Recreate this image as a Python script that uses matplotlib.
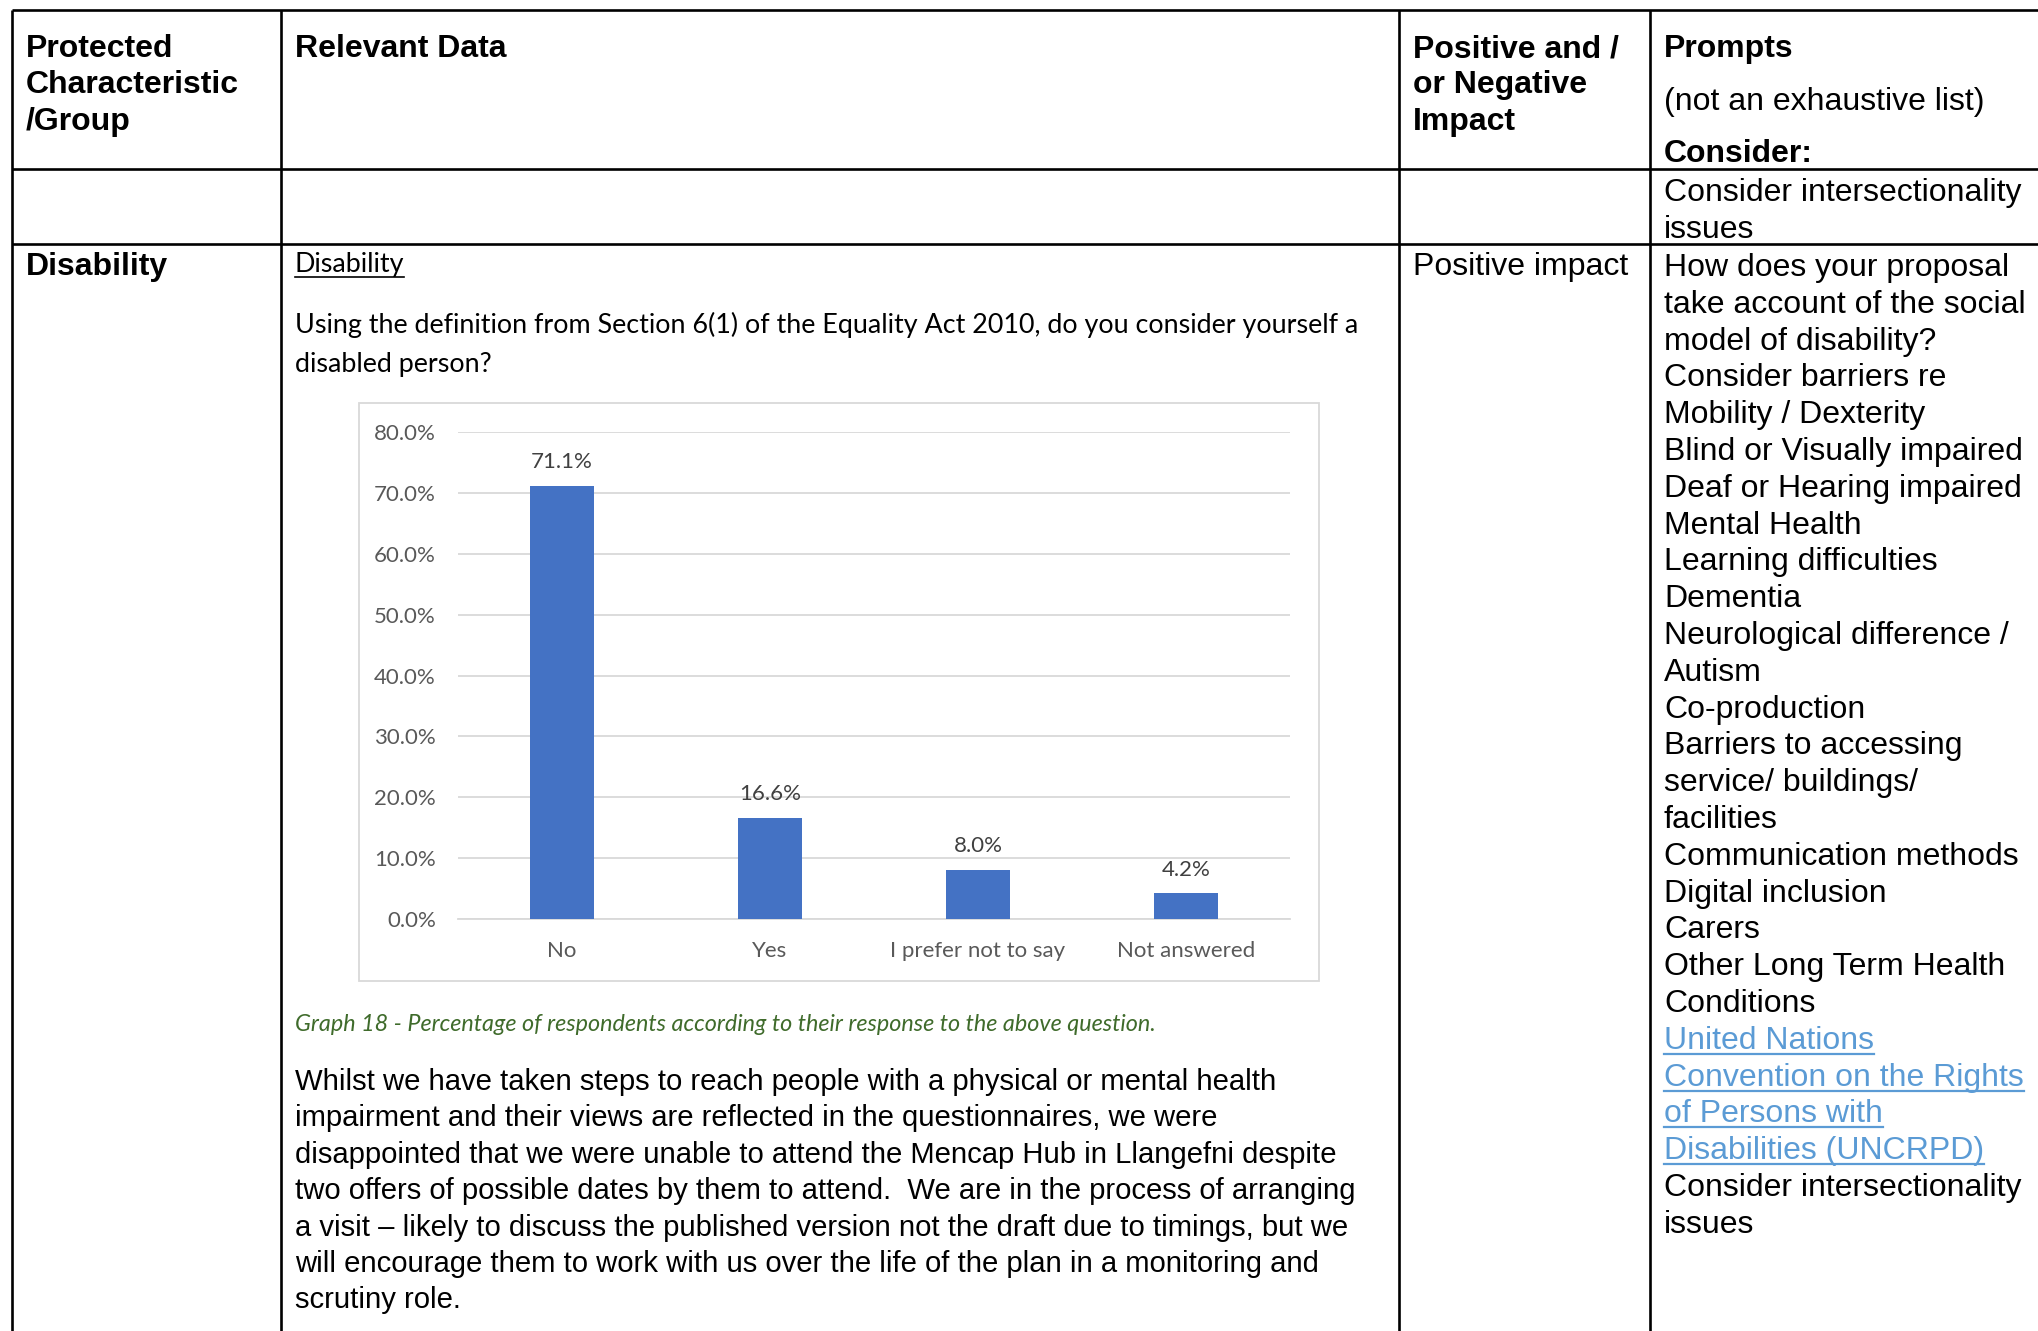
import matplotlib.pyplot as plt
from matplotlib.patches import Rectangle

# chart data
categories = ["No", "Yes", "I prefer not to say", "Not answered"]
values = [71.1, 16.6, 8.0, 4.2]
yticks = [0, 10, 20, 30, 40, 50, 60, 70, 80]

# table text
col1_header = ["Protected", "Characteristic", "/Group"]
col3_header = ["Positive and /", "or Negative", "Impact"]
prompts_top = ["Consider intersectionality", "issues"]
prompts = [
    "How does your proposal", "take account of the social", "model of disability?",
    "Consider barriers re", "Mobility / Dexterity", "Blind or Visually impaired",
    "Deaf or Hearing impaired", "Mental Health", "Learning difficulties", "Dementia",
    "Neurological difference /", "Autism", "Co-production", "Barriers to accessing",
    "service/ buildings/", "facilities", "Communication methods", "Digital inclusion",
    "Carers", "Other Long Term Health", "Conditions",
]
link_lines = ["United Nations", "Convention on the Rights", "of Persons with",
              "Disabilities (UNCRPD)"]
prompts_end = ["Consider intersectionality", "issues"]
body = [
    "Whilst we have taken steps to reach people with a physical or mental health",
    "impairment and their views are reflected in the questionnaires, we were",
    "disappointed that we were unable to attend the Mencap Hub in Llangefni despite",
    "two offers of possible dates by them to attend.  We are in the process of arranging",
    "a visit \u2013 likely to discuss the published version not the draft due to timings, but we",
    "will encourage them to work with us over the life of the plan in a monitoring and",
    "scrutiny role.",
]
question = ["Using the definition from Section 6(1) of the Equality Act 2010, do you consider yourself a",
            "disabled person?"]
caption = "Graph 18 - Percentage of respondents according to their response to the above question."

W, H = 2038, 1331
ARIAL = "Liberation Sans"
CAL = "Lato"
SZ = 23

fig = plt.figure(figsize=(W / 100, H / 100), dpi=100)
bg = fig.add_axes([0, 0, 1, 1])
bg.set_xlim(0, W)
bg.set_ylim(H, 0)
bg.axis("off")

# table grid
lw = 1.9
bg.hlines([10, 169, 244], 12, W, color="black", lw=lw)
bg.vlines([12, 281, 1399, 1650], 10, H, color="black", lw=lw)

renderer = fig.canvas.get_renderer()


def underline(t, y, color, width=1.4):
    bb = t.get_window_extent(renderer)
    bg.plot([bb.x0, bb.x1], [y, y], color=color, lw=width)


def lines(x, y0, step, items, **kw):
    out = []
    for i, s in enumerate(items):
        out.append(bg.text(x, y0 + i * step, s, va="baseline", ha="left", **kw))
    return out


# header row
lines(26, 57, 36.4, col1_header, family=ARIAL, size=SZ, weight="bold")
bg.text(295, 57, "Relevant Data", family=ARIAL, size=SZ, weight="bold", va="baseline")
lines(1413, 57, 36.4, col3_header, family=ARIAL, size=SZ, weight="bold")
bg.text(1664, 57, "Prompts", family=ARIAL, size=SZ, weight="bold", va="baseline")
bg.text(1664, 110, "(not an exhaustive list)", family=ARIAL, size=SZ, va="baseline")
bg.text(1664, 162, "Consider:", family=ARIAL, size=SZ, weight="bold", va="baseline")
lines(1664, 201, 36.6, prompts_top, family=ARIAL, size=SZ)

# disability row
bg.text(26, 275, "Disability", family=ARIAL, size=SZ, weight="bold", va="baseline")
bg.text(1413, 275, "Positive impact", family=ARIAL, size=SZ, va="baseline")
step = 36.8
lines(1664, 276, step, prompts, family=ARIAL, size=SZ)
y_link = 276 + len(prompts) * step
for t in lines(1664, y_link, step, link_lines, family=ARIAL, size=SZ, color="#5B9BD5"):
    underline(t, t.get_position()[1] + 5, "#5B9BD5", 1.6)
lines(1664, y_link + len(link_lines) * step, step, prompts_end, family=ARIAL, size=SZ)

t = bg.text(295, 272, "Disability", family=CAL, size=19.4, va="baseline")
underline(t, 277, "black", 1.2)
lines(295, 333, 39, question, family=CAL, size=19.4)

# chart frame
bg.add_patch(Rectangle((359, 403), 960, 578, fill=False, edgecolor="#D9D9D9", lw=1.3))

ax = fig.add_axes([458 / W, 1 - 919 / H, (1290 - 458) / W, (919 - 432) / H])
ax.bar(range(len(values)), values, width=0.31, color="#4472C4", zorder=3)
ax.set_xlim(-0.5, len(values) - 0.5)
ax.set_ylim(0, 80)
ax.set_yticks(yticks)
ax.set_yticklabels([f"{v:.1f}%" for v in yticks], family=CAL, size=16, color="#595959")
ax.set_xticks(range(len(categories)))
ax.set_xticklabels(categories, family=CAL, size=16, color="#595959")
ax.grid(axis="y", color="#D9D9D9", lw=1.3, zorder=0)
ax.set_axisbelow(True)
for side in ["top", "right", "left"]:
    ax.spines[side].set_visible(False)
ax.spines["bottom"].set_color("#D9D9D9")
ax.spines["bottom"].set_linewidth(1.3)
ax.tick_params(axis="y", length=0, pad=16)
ax.tick_params(axis="x", length=0, pad=16)
for i, v in enumerate(values):
    ax.annotate(f"{v:.1f}%", (i, v), xytext=(0, 10), textcoords="offset points",
                ha="center", va="bottom", family=CAL, size=16, color="#404040")

bg.text(295, 1031, caption, family=CAL, size=16.8, style="italic", color="#3F6B2B",
        va="baseline")
lines(295, 1090, 36.4, body, family=ARIAL, size=21.1)

fig.savefig("out.png", dpi=100)
